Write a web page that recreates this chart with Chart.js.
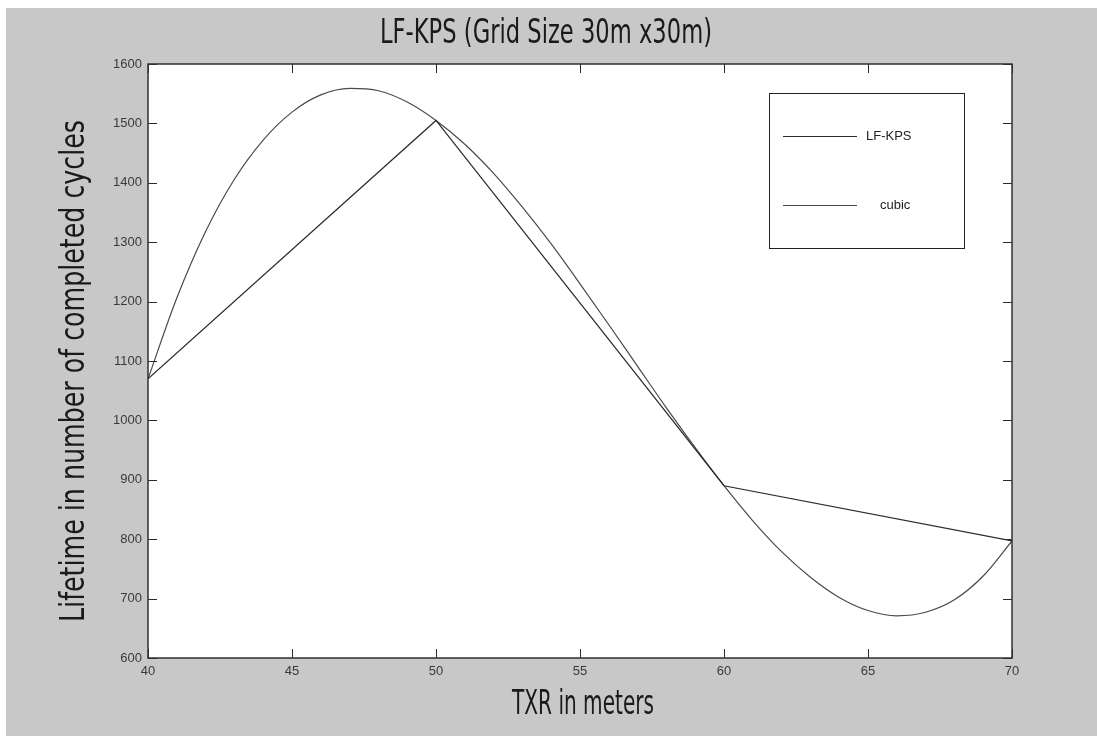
<!DOCTYPE html>
<html>
<head>
<meta charset="utf-8">
<script src="https://cdn.jsdelivr.net/npm/chart.js@4.4.1/dist/chart.umd.min.js"></script>
<style>
    html, body { margin: 0; padding: 0; background: #ffffff; }
    #wrap { position: absolute; left: 6px; top: 8px; width: 1091px; height: 728px; background: #c8c8c8; }
</style>
</head>
<body>
<div id="wrap"><canvas id="lifeChart" width="1091" height="728"></canvas></div>
<script>
// TXR (m) and lifetime values
const txrPoints = [40, 50, 60, 70];
const lfkpsLifetime = [1070, 1505, 890, 797];

const cubicTxr = [40, 41, 42, 43, 44, 45, 46, 47, 48, 49, 50, 51, 52, 53, 54, 55,
                  56, 57, 58, 59, 60, 61, 62, 63, 64, 65, 66, 67, 68, 69, 70];
const cubicLifetime = [1070, 1206, 1318, 1406, 1472, 1519, 1548, 1559, 1555, 1536, 1505,
                       1465, 1416, 1359, 1297, 1230, 1161, 1091, 1021, 954, 890,
                       831, 779, 736, 702, 680, 671, 677, 698, 738, 797];

const xTicks = [40, 45, 50, 55, 60, 65, 70];
const yTicks = [600, 700, 800, 900, 1000, 1100, 1200, 1300, 1400, 1500, 1600];

const chartTitle = 'LF-KPS (Grid Size 30m x30m)';
const xTitle = 'TXR in meters';
const yTitle = 'Lifetime in number of completed cycles';

// narrow "stencil-like" labels: a normal font squeezed sideways to the width seen in the figure
function narrowText(ctx, text, cx, cy, width, angle) {
    ctx.save();
    ctx.translate(cx, cy);
    ctx.rotate(angle);
    ctx.font = "33px 'DejaVu Sans', sans-serif";
    ctx.textAlign = 'center';
    ctx.textBaseline = 'middle';
    ctx.fillStyle = '#1a1a1a';
    const w = ctx.measureText(text).width;
    ctx.scale(width / w, 1);
    ctx.fillText(text, 0, 0);
    ctx.restore();
}

// white plot box, inward ticks on all four sides, titles and the boxed legend
const matlabAxes = {
    id: 'matlabAxes',
    beforeDraw(chart) {
        const a = chart.chartArea;
        const ctx = chart.ctx;
        ctx.save();
        ctx.fillStyle = '#ffffff';
        ctx.fillRect(a.left, a.top, a.right - a.left, a.bottom - a.top);
        ctx.restore();
    },
    afterDraw(chart) {
        const a = chart.chartArea;
        const ctx = chart.ctx;
        const xs = chart.scales.x;
        const ys = chart.scales.y;
        const len = 9;
        ctx.save();
        ctx.strokeStyle = '#2a2a2a';
        ctx.lineWidth = 1;
        ctx.beginPath();
        xTicks.forEach(v => {
            const px = Math.round(xs.getPixelForValue(v)) + 0.5;
            ctx.moveTo(px, a.bottom); ctx.lineTo(px, a.bottom - len);
            ctx.moveTo(px, a.top); ctx.lineTo(px, a.top + len);
        });
        yTicks.forEach(v => {
            const py = Math.round(ys.getPixelForValue(v)) + 0.5;
            ctx.moveTo(a.left, py); ctx.lineTo(a.left + len, py);
            ctx.moveTo(a.right, py); ctx.lineTo(a.right - len, py);
        });
        ctx.stroke();
        ctx.lineWidth = 1.5;
        ctx.strokeStyle = '#303030';
        ctx.strokeRect(a.left, a.top, a.right - a.left, a.bottom - a.top);

        // titles
        narrowText(ctx, chartTitle, (a.left + a.right) / 2 - 34, 26, 332, 0);
        narrowText(ctx, xTitle, (a.left + a.right) / 2 + 3, 697, 142, 0);
        narrowText(ctx, yTitle, 69, (a.top + a.bottom) / 2 + 10, 502, -Math.PI / 2);

        // legend box
        const bx = 763, by = 85, bw = 195, bh = 155;
        ctx.lineWidth = 1;
        ctx.strokeStyle = '#222222';
        ctx.strokeRect(bx + 0.5, by + 0.5, bw, bh);
        ctx.font = "13px 'Liberation Sans', Arial, sans-serif";
        ctx.textBaseline = 'middle';
        ctx.fillStyle = '#222222';
        const rows = [
            { y: by + 43, textX: bx + 97 },
            { y: by + 112, textX: bx + 111 }
        ];
        chart.data.datasets.forEach((ds, i) => {
            const r = rows[i];
            ctx.strokeStyle = ds.borderColor;
            ctx.beginPath();
            ctx.moveTo(bx + 14, r.y + 0.5);
            ctx.lineTo(bx + 88, r.y + 0.5);
            ctx.stroke();
            ctx.fillText(ds.label, r.textX, r.y);
        });
        ctx.restore();
    }
};

function initChart() {
    const ctx = document.getElementById('lifeChart').getContext('2d');
    const tickFont = { family: "'Liberation Sans', Arial, sans-serif", size: 13 };

    new Chart(ctx, {
        type: 'line',
        data: {
            datasets: [
                {
                    label: 'LF-KPS',
                    data: txrPoints.map((x, i) => ({ x: x, y: lfkpsLifetime[i] })),
                    borderColor: '#2b2b2b',
                    borderWidth: 1.2,
                    pointRadius: 0,
                    tension: 0
                },
                {
                    label: 'cubic',
                    data: cubicTxr.map((x, i) => ({ x: x, y: cubicLifetime[i] })),
                    borderColor: '#4a4a4a',
                    borderWidth: 1.2,
                    pointRadius: 0,
                    cubicInterpolationMode: 'monotone'
                }
            ]
        },
        options: {
            responsive: false,
            animation: false,
            layout: { padding: { left: 0, right: 85, top: 56, bottom: 0 } },
            plugins: {
                legend: { display: false },
                tooltip: { enabled: false },
                title: { display: false }
            },
            scales: {
                x: {
                    type: 'linear',
                    min: 40, max: 70,
                    afterBuildTicks: (s) => { s.ticks = xTicks.map(v => ({ value: v })); },
                    afterFit: (s) => { s.height = 78; },
                    grid: { display: false, drawTicks: false },
                    border: { display: false },
                    ticks: { color: '#3a3a3a', padding: 6, font: tickFont, callback: v => String(v) }
                },
                y: {
                    type: 'linear',
                    min: 600, max: 1600,
                    afterBuildTicks: (s) => { s.ticks = yTicks.map(v => ({ value: v })); },
                    afterFit: (s) => { s.width = 142; },
                    grid: { display: false, drawTicks: false },
                    border: { display: false },
                    ticks: { color: '#3a3a3a', padding: 6, font: tickFont, callback: v => String(v) }
                }
            }
        },
        plugins: [matlabAxes]
    });
}

document.addEventListener('DOMContentLoaded', initChart);
</script>
</body>
</html>
